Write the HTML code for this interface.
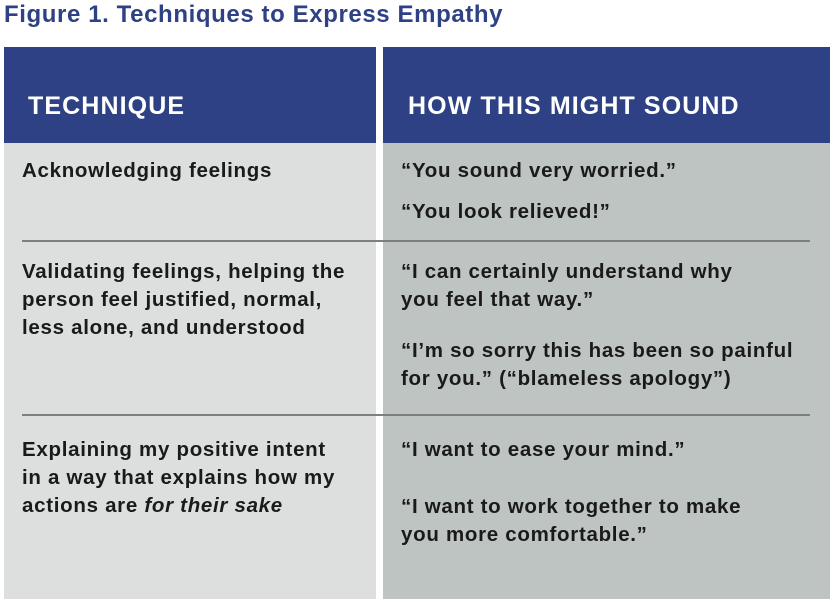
<!DOCTYPE html>
<html><head><meta charset="utf-8"><style>
body{margin:0;width:836px;height:606px;background:#fff;position:relative;overflow:hidden;font-family:"Liberation Sans",Arial,sans-serif;}
.a{position:absolute;}
.t{position:absolute;font-size:20.5px;letter-spacing:0.7px;font-weight:bold;color:#1a1a1a;white-space:nowrap;line-height:28px;}
.h{position:absolute;color:#fff;font-weight:bold;font-size:25px;letter-spacing:1.1px;white-space:nowrap;}
.ln{position:absolute;height:2px;background:#7d807f;}
</style></head><body>
<div class="a" style="left:4px;top:1px;font-size:24px;letter-spacing:0.6px;font-weight:bold;color:#2f4185;white-space:nowrap">Figure 1. Techniques to Express Empathy</div>
<div class="a" style="left:4px;top:47px;width:372px;height:96px;background:#2e4185"></div>
<div class="a" style="left:383px;top:47px;width:447px;height:96px;background:#2e4185"></div>
<div class="a" style="left:4px;top:143px;width:372px;height:456px;background:#dcdfde"></div>
<div class="a" style="left:383px;top:143px;width:447px;height:456px;background:#bec4c1"></div>
<div class="h" style="left:28px;top:92px">TECHNIQUE</div>
<div class="h" style="left:408px;top:92px">HOW THIS MIGHT SOUND</div>
<div class="ln" style="left:22px;top:240px;width:788px"></div>
<div class="ln" style="left:22px;top:414px;width:788px"></div>
<div class="t" style="left:22px;top:157px">Acknowledging feelings</div>
<div class="t" style="left:401px;top:157px">“You sound very worried.”</div>
<div class="t" style="left:401px;top:198px">“You look relieved!”</div>
<div class="t" style="left:22px;top:258px">Validating feelings, helping the<br>person feel justified, normal,<br>less alone, and understood</div>
<div class="t" style="left:401px;top:258px">“I can certainly understand why<br>you feel that way.”</div>
<div class="t" style="left:401px;top:337px">“I’m so sorry this has been so painful<br>for you.” (“blameless apology”)</div>
<div class="t" style="left:22px;top:436px">Explaining my positive intent<br>in a way that explains how my<br>actions are <i>for their sake</i></div>
<div class="t" style="left:401px;top:436px">“I want to ease your mind.”</div>
<div class="t" style="left:401px;top:493px">“I want to work together to make<br>you more comfortable.”</div>
</body></html>
